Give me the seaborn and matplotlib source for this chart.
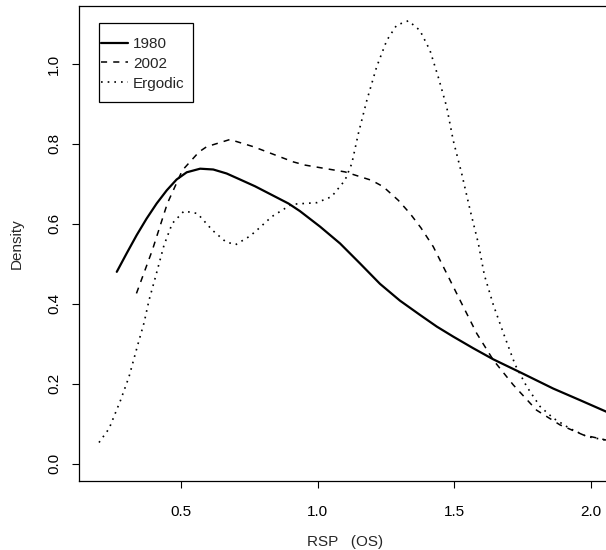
import numpy as np
import pandas as pd
import matplotlib
matplotlib.use("Agg")
import matplotlib.pyplot as plt
from matplotlib.patches import Rectangle
import seaborn as sns

# ---- data ----
x_1980 = [0.265, 0.301, 0.338, 0.374, 0.411, 0.448, 0.484, 0.521, 0.570, 0.618,
          0.667, 0.716, 0.771, 0.893, 0.935, 1.009, 1.082, 1.155, 1.228, 1.301,
          1.375, 1.436, 1.496, 1.569, 1.643, 1.740, 1.862, 1.960, 2.070]
y_1980 = [0.480, 0.526, 0.572, 0.613, 0.651, 0.684, 0.711, 0.729, 0.738, 0.736,
          0.726, 0.711, 0.694, 0.651, 0.632, 0.593, 0.551, 0.501, 0.450, 0.408,
          0.372, 0.343, 0.318, 0.289, 0.261, 0.229, 0.188, 0.159, 0.126]

x_2002 = [0.337, 0.395, 0.450, 0.505, 0.566, 0.594, 0.679, 0.765, 0.911, 0.954,
          1.100, 1.197, 1.240, 1.295, 1.338, 1.378, 1.423, 1.478, 1.521, 1.582,
          1.643, 1.716, 1.801, 1.887, 1.972, 2.070]
y_2002 = [0.426, 0.534, 0.651, 0.734, 0.780, 0.793, 0.811, 0.793, 0.755, 0.747,
          0.730, 0.709, 0.693, 0.659, 0.626, 0.590, 0.543, 0.468, 0.409, 0.326,
          0.259, 0.197, 0.134, 0.097, 0.072, 0.057]

x_erg = [0.200, 0.237, 0.279, 0.310, 0.340, 0.365, 0.383, 0.407, 0.438, 0.468,
         0.511, 0.560, 0.615, 0.664, 0.700, 0.749, 0.771, 0.832, 0.905, 0.997,
         1.051, 1.100, 1.125, 1.149, 1.180, 1.216, 1.253, 1.289, 1.332, 1.374,
         1.411, 1.441, 1.472, 1.496, 1.527, 1.558, 1.588, 1.610, 1.643, 1.680,
         1.723, 1.765, 1.814, 1.862, 1.923, 1.985, 2.070]
y_erg = [0.053, 0.088, 0.159, 0.218, 0.293, 0.353, 0.409, 0.468, 0.547, 0.601,
         0.632, 0.626, 0.584, 0.555, 0.548, 0.568, 0.580, 0.618, 0.649, 0.653,
         0.668, 0.709, 0.751, 0.826, 0.909, 0.993, 1.059, 1.097, 1.108, 1.084,
         1.034, 0.968, 0.893, 0.809, 0.726, 0.634, 0.551, 0.472, 0.397, 0.326,
         0.247, 0.193, 0.143, 0.114, 0.088, 0.068, 0.057]

series_names = ["1980", "2002", "Ergodic"]
x_ticks = [0.5, 1.0, 1.5, 2.0]
y_ticks = [0.0, 0.2, 0.4, 0.6, 0.8, 1.0]

sns.set_style("ticks")
plt.rcParams["font.family"] = ["Liberation Sans", "DejaVu Sans"]

W, H = 606, 550
fig = plt.figure(figsize=(W / 100, H / 100), dpi=100)
ax_left, ax_right, ax_top, ax_bottom = 79.3, 610.0, 6.0, 481.0
ax = fig.add_axes([ax_left / W, (H - ax_bottom) / H,
                   (ax_right - ax_left) / W, (ax_bottom - ax_top) / H])

styles = [
    dict(linestyle="-", linewidth=1.6),
    dict(linestyle=(0, (4, 4)), linewidth=1.1),
    dict(linestyle=(0, (1, 3)), linewidth=1.2),
]
for name, xs, ys, st in zip(series_names, [x_1980, x_2002, x_erg],
                            [y_1980, y_2002, y_erg], styles):
    df = pd.DataFrame({"x": xs, "y": ys})
    sns.lineplot(data=df, x="x", y="y", ax=ax, color="black", sort=False,
                 estimator=None, label=name, **st)

ax.set_xlim(0.1279, 0.1279 + (ax_right - ax_left) / 273.3)
ax.set_ylim(-0.04325, 1.145)
ax.set_xticks(x_ticks)
ax.set_xticklabels([f"{v:.1f}" for v in x_ticks])
ax.set_yticks(y_ticks)
ax.set_yticklabels([f"{v:.1f}" for v in y_ticks], rotation=90, va="center")

for s in ax.spines.values():
    s.set_linewidth(0.9)
    s.set_color("black")
ax.tick_params(axis="both", direction="out", length=5, width=0.8,
               colors="black", labelsize=11)
ax.tick_params(axis="x", pad=12)
ax.tick_params(axis="y", pad=8)

ax.set_xlabel("RSP   (OS)", fontsize=11, labelpad=12)
ax.set_ylabel("Density", fontsize=11, labelpad=17)

# legend contents (frame drawn separately to match R's box proportions)
fs_px = 11 * 100 / 72
leg = fig.legend(*ax.get_legend_handles_labels(), loc="upper left",
                 bbox_to_anchor=(101.0 / W, 1 - 37.0 / H),
                 borderaxespad=0, borderpad=0, fontsize=11, frameon=False,
                 handlelength=26.6 / fs_px, handletextpad=5.5 / fs_px,
                 labelspacing=0.38)
ax.get_legend().remove()
fig.add_artist(Rectangle((98.7 / W, 1 - 102.3 / H), (192.7 - 98.7) / W,
                         (102.3 - 23.3) / H, transform=fig.transFigure,
                         fill=False, edgecolor="black", linewidth=0.9))

fig.savefig("out.png", dpi=100)
